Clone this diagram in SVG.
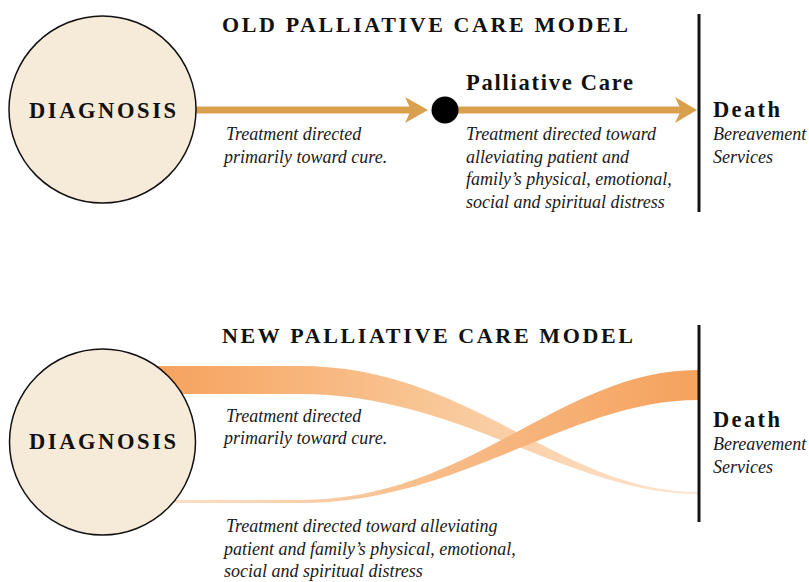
<svg xmlns="http://www.w3.org/2000/svg" width="809" height="582" viewBox="0 0 809 582">
<style>
.title{font-family:"Liberation Serif",serif;font-weight:bold;font-size:22px;fill:#111}
.diag{font-family:"Liberation Serif",serif;font-weight:bold;font-size:22.5px;fill:#111}
.head{font-family:"Liberation Serif",serif;font-weight:bold;font-size:22.5px;fill:#111}
.it{font-family:"Liberation Serif",serif;font-style:italic;font-size:18px;fill:#1a1a1a}
.circ{fill:#F6EAD9;stroke:#111;stroke-width:1.5}
.arrowline{stroke:#D9A14D;stroke-width:7;fill:none}
.arrowhead{fill:#D9A14D}
.vline{stroke:#141414;stroke-width:3}
</style>
<defs>
<linearGradient id="gCure" gradientUnits="userSpaceOnUse" x1="150" y1="0" x2="698" y2="0">
<stop offset="0" stop-color="#F6A15C"/>
<stop offset="0.5" stop-color="#F9C594"/>
<stop offset="1" stop-color="#FDE6D2"/>
</linearGradient>
<linearGradient id="gPall" gradientUnits="userSpaceOnUse" x1="150" y1="0" x2="698" y2="0">
<stop offset="0" stop-color="#FDE2CB"/>
<stop offset="0.5" stop-color="#F8BE8C"/>
<stop offset="1" stop-color="#F5A25D"/>
</linearGradient>
</defs>

<g id="connectors">
<line class="arrowline" x1="196" y1="110" x2="414" y2="110"/>
<polygon class="arrowhead" points="428,110 405,97 411,110 405,123"/>
<line class="arrowline" x1="445" y1="110" x2="684" y2="110"/>
<polygon class="arrowhead" points="697,110 675,97 681,110 675,123"/>
<path id="band-cure" fill="url(#gCure)" d="M100,366 L300,366 C470,366 560,492 698,492 L698,494 C570,494 460,394 300,394 L100,394 Z"/>
<path id="band-palliative" fill="url(#gPall)" d="M100,500 L300,500 C470,500 560,370 698,370 L698,400 C570,400 460,503 300,503 L100,503 Z"/>
</g>

<g id="title-old">
<text class="title" x="222" y="32" textLength="406" lengthAdjust="spacing">OLD PALLIATIVE CARE MODEL</text>
</g>
<g id="diagnosis-old">
<circle class="circ" cx="102.5" cy="109.5" r="93.5"/>
<text class="diag" x="29" y="118" textLength="147" lengthAdjust="spacing">DIAGNOSIS</text>
</g>
<g id="label-cure-old">
<text class="it" x="226" y="140">Treatment directed</text>
<text class="it" x="224" y="163">primarily toward cure.</text>
</g>
<g id="palliative-care">
<circle cx="445" cy="110" r="13.5" fill="#000"/>
<text class="head" x="466" y="90" textLength="167" lengthAdjust="spacing">Palliative Care</text>
<text class="it" x="466" y="140">Treatment directed toward</text>
<text class="it" x="466" y="163">alleviating patient and</text>
<text class="it" x="466" y="185">family’s physical, emotional,</text>
<text class="it" x="466" y="208">social and spiritual distress</text>
</g>
<g id="death-old">
<line class="vline" x1="699" y1="14" x2="699" y2="212"/>
<text class="head" x="713" y="117" textLength="67" lengthAdjust="spacing">Death</text>
<text class="it" x="713" y="140">Bereavement</text>
<text class="it" x="713" y="163">Services</text>
</g>

<g id="title-new">
<text class="title" x="222" y="343" textLength="411" lengthAdjust="spacing">NEW PALLIATIVE CARE MODEL</text>
</g>
<g id="diagnosis-new">
<circle class="circ" cx="102.5" cy="442" r="93"/>
<text class="diag" x="29" y="449" textLength="147" lengthAdjust="spacing">DIAGNOSIS</text>
</g>
<g id="label-cure-new">
<text class="it" x="226" y="422">Treatment directed</text>
<text class="it" x="224" y="444">primarily toward cure.</text>
</g>
<g id="label-palliative-new">
<text class="it" x="226" y="532">Treatment directed toward alleviating</text>
<text class="it" x="224" y="555">patient and family’s physical, emotional,</text>
<text class="it" x="224" y="577">social and spiritual distress</text>
</g>
<g id="death-new">
<line class="vline" x1="699" y1="325" x2="699" y2="522"/>
<text class="head" x="713" y="427" textLength="67" lengthAdjust="spacing">Death</text>
<text class="it" x="713" y="450">Bereavement</text>
<text class="it" x="713" y="473">Services</text>
</g>
</svg>
